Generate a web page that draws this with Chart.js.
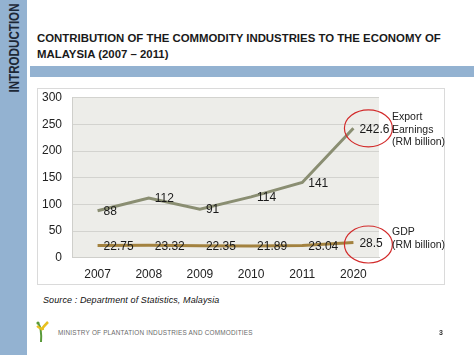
<!DOCTYPE html>
<html>
<head>
<meta charset="utf-8">
<script src="https://cdn.jsdelivr.net/npm/chart.js@4.4.1/dist/chart.umd.min.js"></script>
<style>
  html,body{margin:0;padding:0;background:#fff;}
  body{width:474px;height:355px;position:relative;overflow:hidden;font-family:"Liberation Sans",Arial,sans-serif;}
  .abs{position:absolute;white-space:nowrap;}
  #side{left:0;top:0;width:27px;height:355px;background:#93b2d1;}
  #sidetxt{left:14px;top:48px;transform:translate(-50%,-50%) rotate(-90deg) scaleX(0.83);font-weight:bold;font-size:14px;color:#1d2836;}
  #band{left:30px;top:66px;width:444px;height:11px;background:#93b2d1;}
  .title{left:37px;font-weight:bold;font-size:11.4px;color:#1a1a1a;}
  #box{left:37px;top:88px;width:408px;height:197px;border:1px solid #dadada;box-sizing:border-box;}
  #cv{position:absolute;left:37px;top:88px;}
  .ann{font-family:"Liberation Sans",Arial,sans-serif;font-size:10.5px;color:#222;left:392px;line-height:12.5px;}
  #src{left:43px;top:295px;font-style:italic;font-size:9px;color:#111;letter-spacing:0.1px;}
  #min{left:58px;top:329px;font-size:6.4px;color:#6a6a6a;letter-spacing:0.2px;}
  #pg{left:439px;top:329px;font-size:7px;font-weight:bold;color:#333;}
</style>
</head>
<body>
<div id="side" class="abs"></div>
<div id="sidetxt" class="abs">INTRODUCTION</div>
<div class="abs title" style="top:32px;">CONTRIBUTION OF THE COMMODITY INDUSTRIES TO THE ECONOMY OF</div>
<div class="abs title" style="top:48px;">MALAYSIA (2007 – 2011)</div>
<div id="band" class="abs"></div>
<div id="box" class="abs"></div>
<canvas id="cv" width="408" height="197"></canvas>
<div class="abs ann" style="top:110px;">Export<br>Earnings<br>(RM billion)</div>
<div class="abs ann" style="top:225px;">GDP<br>(RM billion)</div>
<div id="src" class="abs">Source : Department of Statistics, Malaysia</div>
<svg class="abs" style="left:35px;top:320px;" width="16" height="24" viewBox="0 0 16 24">
  <path d="M3 3 Q7 8 6 22" stroke="#5a9a3a" stroke-width="2" fill="none"/>
  <path d="M6 10 Q9 6 13 2" stroke="#e8c020" stroke-width="2.5" fill="none"/>
  <path d="M2 6 Q5 9 9 9" stroke="#e8c020" stroke-width="2" fill="none"/>
  <circle cx="3" cy="3" r="1.6" fill="#5a9a3a"/>
</svg>
<div id="min" class="abs">MINISTRY OF PLANTATION INDUSTRIES AND COMMODITIES</div>
<div id="pg" class="abs">3</div>
<script>
const years = ["2007","2008","2009","2010","2011","2020"];
const exportEarnings = [88, 112, 91, 114, 141, 242.6];
const gdp = [22.75, 23.32, 22.35, 21.89, 23.04, 28.5];
const exportLabels = ["88","112","91","114","141","242.6"];
const gdpLabels = ["22.75","23.32","22.35","21.89","23.04","28.5"];
const yTicks = [0, 50, 100, 150, 200, 250, 300];

const plotBg = {
  id:'plotBg',
  beforeDraw(chart){
    const {ctx, chartArea:a} = chart;
    ctx.save();
    ctx.fillStyle = '#edede9';
    ctx.fillRect(a.left, a.top, a.right-a.left, a.bottom-a.top);
    ctx.restore();
  }
};
const labelsPlugin = {
  id:'valLabels',
  afterDatasetsDraw(chart){
    const ctx = chart.ctx;
    ctx.save();
    ctx.font = '12px "Liberation Sans", Arial, sans-serif';
    ctx.fillStyle = '#1a1a1a';
    ctx.textAlign = 'left';
    ctx.textBaseline = 'middle';
    const sets = [exportLabels, gdpLabels];
    sets.forEach((lbls, di) => {
      const meta = chart.getDatasetMeta(di);
      meta.data.forEach((pt, i) => {
        ctx.fillText(lbls[i], pt.x + 6, pt.y + 1);
      });
    });
    ctx.strokeStyle = '#d22a2a';
    ctx.lineWidth = 1.2;
    [0,1].forEach(di => {
      const meta = chart.getDatasetMeta(di);
      const pt = meta.data[meta.data.length-1];
      ctx.beginPath();
      ctx.ellipse(pt.x + 15, pt.y + (di===0?0:2), 24, 18.5, 0, 0, Math.PI*2);
      ctx.stroke();
    });
    ctx.restore();
  }
};

new Chart(document.getElementById('cv'), {
  type:'line',
  data:{
    labels: years,
    datasets:[
      {label:'Export Earnings (RM billion)', data: exportEarnings, borderColor:'#8a8e72', borderWidth:3, pointRadius:0, tension:0, fill:false},
      {label:'GDP (RM billion)', data: gdp, borderColor:'#a3823f', borderWidth:3, pointRadius:0, tension:0, fill:false}
    ]
  },
  options:{
    responsive:false,
    animation:false,
    events:[],
    layout:{padding:{left:0, right:66, top:9.7, bottom:0}},
    plugins:{legend:{display:false}, tooltip:{enabled:false}},
    scales:{
      x:{
        offset:true,
        grid:{display:false, drawTicks:false},
        border:{display:true, color:'#cfcfcb'},
        ticks:{color:'#222', font:{family:'"Liberation Sans", Arial, sans-serif', size:12}, padding:10, maxRotation:0},
        afterFit(s){ s.height = 27.3; s.paddingLeft = 0; s.paddingRight = 0; }
      },
      y:{
        min:0, max:300,
        afterBuildTicks(s){ s.ticks = yTicks.map(v => ({value:v})); },
        grid:{color:'#d3d3cf', drawTicks:false},
        border:{display:true, color:'#cfcfcb'},
        ticks:{color:'#222', font:{family:'"Liberation Sans", Arial, sans-serif', size:12}, padding:10},
        afterFit(s){ s.width = 35; s.paddingTop = 0; s.paddingBottom = 0; }
      }
    }
  },
  plugins:[plotBg, labelsPlugin]
});
</script>
</body>
</html>
